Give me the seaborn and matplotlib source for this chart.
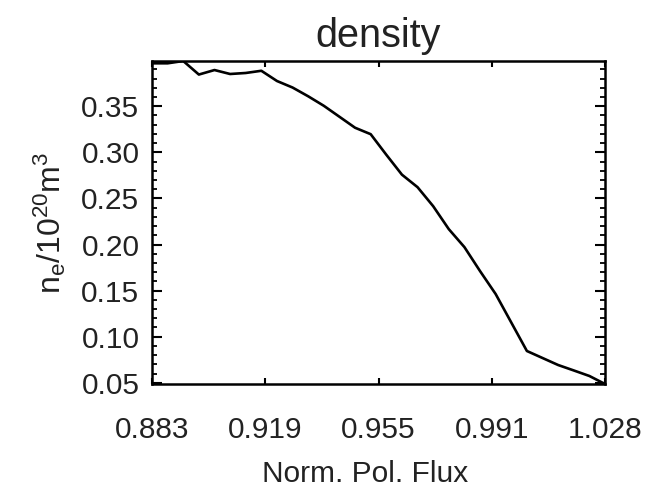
import matplotlib
matplotlib.use("Agg")
import matplotlib.pyplot as plt
import seaborn as sns
import pandas as pd
from matplotlib.ticker import MultipleLocator

# Data
flux = [0.883, 0.888, 0.893, 0.898, 0.903, 0.908, 0.913, 0.918, 0.923, 0.928,
        0.933, 0.938, 0.943, 0.948, 0.953, 0.958, 0.963, 0.968, 0.973, 0.978,
        0.983, 0.988, 0.993, 0.998, 1.003, 1.008, 1.013, 1.018, 1.023, 1.028]
density = [0.3966, 0.3966, 0.3991, 0.3844, 0.3893, 0.3850, 0.3861, 0.3885, 0.3774, 0.3703,
           0.3608, 0.3505, 0.3386, 0.3267, 0.3197, 0.2974, 0.2758, 0.2622, 0.2416, 0.2167,
           0.1972, 0.1712, 0.1463, 0.1154, 0.0845, 0.0769, 0.0693, 0.0634, 0.0574, 0.0487]
xtick_pos = [0.883, 0.91925, 0.9555, 0.99175, 1.028]
xtick_labels = ["0.883", "0.919", "0.955", "0.991", "1.028"]
ytick_pos = [0.05, 0.10, 0.15, 0.20, 0.25, 0.30, 0.35]

sns.set_theme(style="ticks")
plt.rcParams['font.family'] = ['Liberation Sans', 'DejaVu Sans']
plt.rcParams['mathtext.default'] = 'regular'

txt = '#222222'
df = pd.DataFrame({"flux": flux, "density": density})

fig = plt.figure(figsize=(6.49, 4.91), dpi=100)
ax = fig.add_axes([152/649, 1-384/491, 453/649, 323/491])
sns.lineplot(data=df, x="flux", y="density", ax=ax, color='black', linewidth=1.9,
             estimator=None, sort=False)

ax.set_xlim(flux[0], flux[-1])
ax.set_ylim(min(density), max(density))
ax.set_xticks(xtick_pos)
ax.set_xticklabels(xtick_labels)
ax.set_yticks(ytick_pos)
ax.set_yticklabels([f"{v:.2f}" for v in ytick_pos])
ax.yaxis.set_minor_locator(MultipleLocator(0.01))

for s in ax.spines.values():
    s.set_linewidth(1.8)
    s.set_color('black')
    s.set_visible(True)

ax.tick_params(axis='x', which='major', direction='in', top=True, bottom=True,
               length=4.5, width=1.5, pad=23, labelsize=21.5, labelcolor=txt, color='black')
ax.tick_params(axis='y', which='major', direction='in', left=True, right=True,
               length=7, width=1.5, pad=9, labelsize=21.5, labelcolor=txt, color='black')
ax.tick_params(axis='y', which='minor', direction='in', left=True, right=True,
               length=3.5, width=1.3, color='black')

ax.set_xlabel("Norm. Pol. Flux", fontsize=21.5, color=txt, labelpad=12)
ax.xaxis.set_label_coords(0.47, -0.235)
ax.set_ylabel(r"n$_{e}$/10$^{20}$m$^{3}$", fontsize=23, color=txt)
ax.yaxis.set_label_coords(-0.185, 0.5)
ax.set_title("density", fontsize=28.5, color=txt, pad=10)

fig.savefig("out.png", dpi=100)
